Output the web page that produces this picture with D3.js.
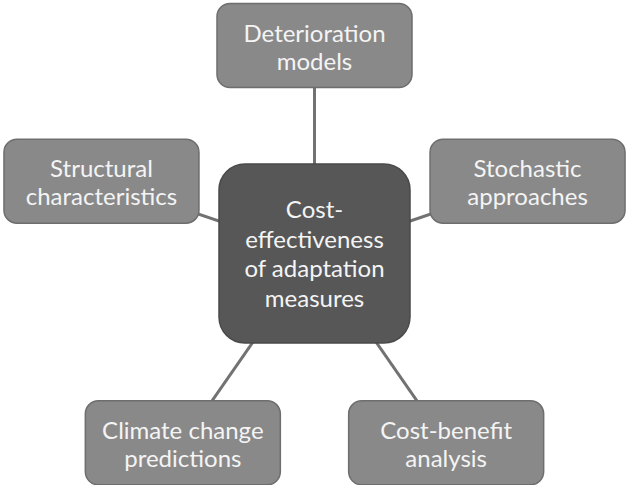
<!DOCTYPE html>
<html>
<head>
<meta charset="utf-8">
<script src="https://cdn.jsdelivr.net/npm/d3@7"></script>
<style>
  body { margin: 0; background: #fff; }
  svg text { font-family: Lato, "Open Sans", sans-serif; fill: #f4f4f4; }
</style>
</head>
<body>
<div class="mindMap"></div>
<script>
// Node labels (one array entry per text line)
var hubLabel = ["Cost-", "effectiveness", "of adaptation", "measures"];
// outer nodes, clockwise from the top
var nodeLabels = [
    ["Deterioration", "models"],
    ["Stochastic", "approaches"],
    ["Cost-benefit", "analysis"],
    ["Climate change", "predictions"],
    ["Structural", "characteristics"]
];

var width = 626, height = 485;

let hub = {cx: 314.5, cy: 253.5, w: 191, h: 179, r: 26};
let boxW = 195, boxH = 84;

// pentagon layout: node index -> angle, stretched into an ellipse round the hub
let angle = d3.scaleLinear().domain([0, nodeLabels.length]).range([-Math.PI / 2, 1.5 * Math.PI]);
let rx = 224, ry = 234, topPull = 26;

let svg = d3.select(".mindMap")
    .append("svg")
    .attr("width", width)
    .attr("height", height);

let nodes = nodeLabels.map((lines, i) => {
    let a = angle(i);
    return {
        lines: lines,
        cx: hub.cx + rx * Math.cos(a),
        cy: hub.cy + ry * Math.sin(a) + (i == 0 ? topPull : 0)
    };
});

// connectors (drawn first, boxes sit on top)
svg.selectAll(".link")
    .data(nodes)
    .enter()
    .append("line")
    .attr("x1", hub.cx)
    .attr("y1", hub.cy)
    .attr("x2", d => d.cx)
    .attr("y2", d => d.cy)
    .attr("stroke", "#727272")
    .attr("stroke-width", 3);

// outer boxes
let g = svg.selectAll(".node")
    .data(nodes)
    .enter()
    .append("g")
    .attr("transform", d => "translate(" + d.cx + "," + d.cy + ")");

g.append("rect")
    .attr("x", -boxW / 2)
    .attr("y", -boxH / 2)
    .attr("width", boxW)
    .attr("height", boxH)
    .attr("rx", 13)
    .attr("fill", "#898989")
    .attr("stroke", "#6e6e6e")
    .attr("stroke-width", 1.5);

g.each(function(d) {
    let t = d3.select(this).append("text")
        .attr("text-anchor", "middle")
        .style("font-size", "24px");
    d.lines.forEach((l, k) => {
        t.append("tspan")
            .attr("x", 0)
            .attr("y", -4 + k * 28)
            .text(l);
    });
});

// central hub
let hg = svg.append("g")
    .attr("transform", "translate(" + hub.cx + "," + hub.cy + ")");
hg.append("rect")
    .attr("x", -hub.w / 2)
    .attr("y", -hub.h / 2)
    .attr("width", hub.w)
    .attr("height", hub.h)
    .attr("rx", hub.r)
    .attr("fill", "#575757")
    .attr("stroke", "#4a4a4a")
    .attr("stroke-width", 1.5);

let ht = hg.append("text")
    .attr("text-anchor", "middle")
    .style("font-size", "24px");
hubLabel.forEach((l, k) => {
    ht.append("tspan")
        .attr("x", 0)
        .attr("y", -35.5 + k * 29.7)
        .text(l);
});
</script>
</body>
</html>
